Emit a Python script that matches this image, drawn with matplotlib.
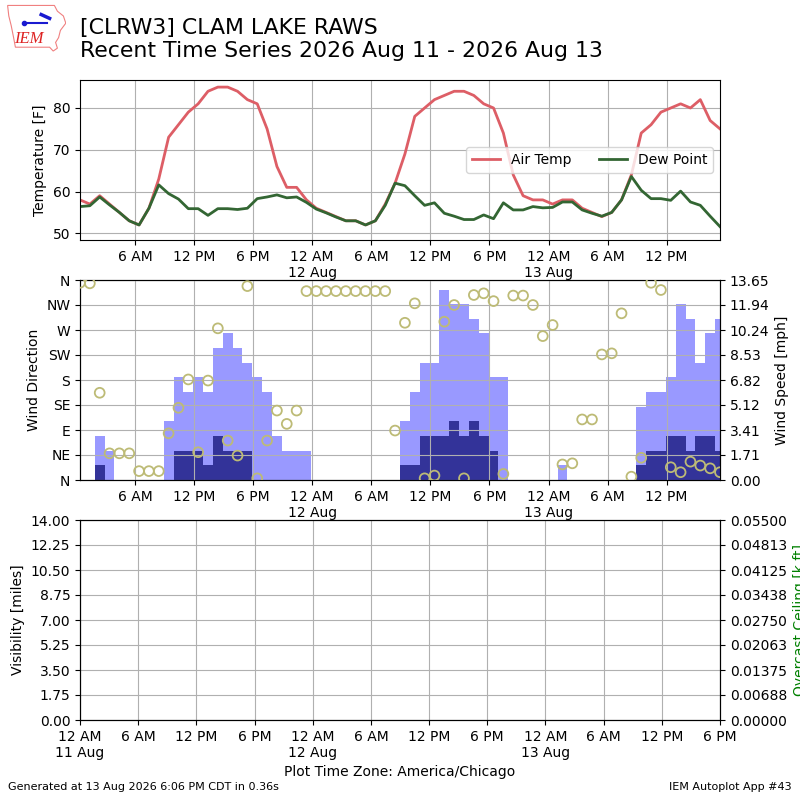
"""Recent time series plot for a RAWS station (temperature, wind, visibility)."""
import datetime

import matplotlib
matplotlib.use("Agg")
import matplotlib.dates as mdates
import matplotlib.pyplot as plt
import numpy as np
import pandas as pd
from matplotlib.patches import Polygon
from matplotlib.ticker import FuncFormatter

# hourly observations, 2026 Aug 11 00:25 -> 2026 Aug 13 17:25 local time
valid = pd.date_range("2026-08-11 00:25", periods=66, freq="h")

air_temp = [58, 57, 59, 57, 55, 53, 52, 56, 63, 73, 76, 79, 81, 84, 85, 85,
            84, 82, 81, 75, 66, 61, 61, 58, 56, 55, 54, 53, 53, 52, 53, 57,
            62, 69, 78, 80, 82, 83, 84, 84, 83, 81, 80, 74, 64, 59, 58, 58,
            57, 58, 58, 56, 55, 54, 55, 58, 64, 74, 76, 79, 80, 81, 80, 82,
            77, 75]
dew_point = [56.4, 56.6, 58.7, 56.8, 55.0, 53.0, 52.0, 56.0, 61.6, 59.5, 58.2,
             55.9, 55.9, 54.3, 55.9, 55.9, 55.7, 56.0, 58.3, 58.7, 59.2, 58.5,
             58.7, 57.4, 55.8, 54.9, 53.9, 53.0, 53.0, 52.0, 53.0, 56.7, 62.0,
             61.4, 59.0, 56.7, 57.3, 54.8, 54.1, 53.3, 53.3, 54.4, 53.5, 57.3,
             55.6, 55.6, 56.4, 56.1, 56.2, 57.5, 57.5, 55.6, 54.8, 54.1, 55.0,
             58.0, 63.6, 60.3, 58.3, 58.3, 57.9, 60.1, 57.5, 56.7, 54.1, 51.6]
wind_dir = [355, 354, 157, 48, 48, 48, 16, 16, 16, 84, 130, 181, 50, 179, 273,
            71, 44, 349, 3, 71, 125, 101, 125, 340, 340, 340, 340, 340, 340,
            340, 340, 340, 89, 283, 318, 3, 8, 285, 315, 3, 333, 336, 322, 11,
            332, 332, 315, 259, 279, 28, 30, 109, 109, 226, 228, 300, 6, 40,
            355, 342, 23, 14, 33, 26, 21, 14]
wind_gust = [0, 0, 3, 2, 0, 0, 0, 0, 0, 4, 7, 6, 7, 6, 9, 10, 9, 8, 7, 6, 3,
             2, 2, 2, 0, 0, 0, 0, 0, 0, 0, 0, 0, 4, 6, 8, 8, 13, 12, 12, 11,
             10, 7, 7, 0, 0, 0, 0, 0, 1, 0, 0, 0, 0, 0, 0, 0, 5, 6, 6, 7, 12,
             11, 8, 10, 11]
wind_speed = [0, 0, 1, 0, 0, 0, 0, 0, 0, 0, 2, 2, 2, 1, 3, 2, 2, 2, 0, 0, 0,
              0, 0, 0, 0, 0, 0, 0, 0, 0, 0, 0, 0, 1, 1, 3, 3, 3, 4, 3, 4, 3,
              2, 0, 0, 0, 0, 0, 0, 0, 0, 0, 0, 0, 0, 0, 0, 1, 2, 2, 3, 3, 2,
              3, 3, 2]

dir_labels = ["N", "NE", "E", "SE", "S", "SW", "W", "NW", "N"]
plot_start = datetime.datetime(2026, 8, 11, 0, 0)
plot_end = datetime.datetime(2026, 8, 13, 18, 0)


def time_label(x, pos=None):
    """ 12 AM gets the date underneath. """
    dt = mdates.num2date(x)
    hr = dt.hour % 12 or 12
    ampm = "AM" if dt.hour < 12 else "PM"
    if dt.hour == 0:
        return f"{hr} {ampm}\n{dt.day} {dt.strftime('%b')}"
    return f"{hr} {ampm}"


def speed_label(v, pos=None):
    """ Two decimals, halves rounded down like the original. """
    if v <= 0:
        return "0.00"
    return f"{v - 1e-9:.2f}"


def setup_time_axis(ax):
    ax.xaxis.set_major_locator(mdates.HourLocator(byhour=[0, 6, 12, 18]))
    ax.xaxis.set_major_formatter(FuncFormatter(time_label))
    ax.grid(True)


def draw_logo(fig):
    """ Rough stand-in for the IEM logo. """
    lax = fig.add_axes([0.008, 0.935, 0.075, 0.06])
    lax.set_xlim(0, 1)
    lax.set_ylim(0, 1)
    lax.axis("off")
    outline = [(0.02, 0.97), (0.8, 0.97), (0.85, 0.85), (0.95, 0.75),
               (0.99, 0.6), (0.9, 0.45), (0.87, 0.3), (0.82, 0.2),
               (0.85, 0.08), (0.78, 0.02), (0.72, 0.1), (0.15, 0.1),
               (0.12, 0.3), (0.08, 0.55), (0.04, 0.75)]
    lax.add_patch(Polygon(outline, closed=True, fill=False,
                          edgecolor="#f08080", lw=0.8))
    lax.plot([0.3, 0.68], [0.6, 0.6], color="#1a1ad0", lw=1.5)
    lax.plot([0.3], [0.6], "o", color="#1a1ad0", ms=3)
    lax.plot([0.58, 0.72], [0.78, 0.7], color="#1a1ad0", lw=2.5)
    lax.text(0.38, 0.28, "IEM", color="#dd2222", fontsize=12,
             style="italic", family="Liberation Serif",
             ha="center", va="center")


fig = plt.figure(figsize=(8, 8), dpi=100)

fig.text(0.1, 0.978,
         "[CLRW3] CLAM LAKE RAWS\nRecent Time Series 2026 Aug 11 - 2026 Aug 13",
         fontsize=15.8, va="top", ha="left")
draw_logo(fig)
fig.text(0.01, 0.012, "Generated at 13 Aug 2026 6:06 PM CDT in 0.36s",
         fontsize=8)
fig.text(0.99, 0.012, "IEM Autoplot App #43", fontsize=8, ha="right")

# temperature panel
ax1 = fig.add_axes([0.1, 0.7, 0.8, 0.2])
ax1.plot(valid, air_temp, color="#dd5e66", lw=2, label="Air Temp")
ax1.plot(valid, dew_point, color="#336633", lw=2, label="Dew Point")
ax1.set_xlim(valid[0], valid[-1])
ax1.set_ylim(48.4, 86.7)
ax1.set_ylabel("Temperature [F]")
setup_time_axis(ax1)
ax1.legend(loc="center right", ncol=2)

# wind panel: direction in front, speed bars behind
ax2 = fig.add_axes([0.1, 0.4, 0.8, 0.25])
ax2b = ax2.twinx()
ax2b.bar(valid, wind_gust, width=1 / 24.0, color="#9999ff")
ax2b.bar(valid, wind_speed, width=1 / 24.0, color="#333399")
ax2b.set_ylim(0, max(wind_gust) * 1.05)
ax2b.set_yticks(np.linspace(0, max(wind_gust) * 1.05, 9))
ax2b.yaxis.set_major_formatter(FuncFormatter(speed_label))
ax2b.set_ylabel("Wind Speed [mph]")

ax2.scatter(valid, wind_dir, s=50, facecolors="none",
            edgecolors="#bdbb76", linewidths=1.3, zorder=5)
ax2.set_ylim(0, 360)
ax2.set_yticks(range(0, 361, 45))
ax2.set_yticklabels(dir_labels)
ax2.set_ylabel("Wind Direction")
ax2.set_xlim(valid[0], valid[-1])
setup_time_axis(ax2)
ax2.set_zorder(ax2b.get_zorder() + 1)
ax2.patch.set_visible(False)

# visibility / ceiling panel (no data)
ax3 = fig.add_axes([0.1, 0.1, 0.8, 0.25])
ax3.set_xlim(plot_start, plot_end)
ax3.set_ylim(0, 14)
ax3.set_yticks(np.linspace(0, 14, 9))
ax3.yaxis.set_major_formatter(FuncFormatter(lambda v, p: f"{v:.2f}"))
ax3.set_ylabel("Visibility [miles]")
ax3.set_xlabel("Plot Time Zone: America/Chicago")
setup_time_axis(ax3)

ax3b = ax3.twinx()
ax3b.set_ylim(0, 0.055)
ax3b.set_yticks(np.linspace(0, 0.055, 9))
ax3b.yaxis.set_major_formatter(
    FuncFormatter(lambda v, p: f"{v + 1e-12:.5f}"))
ax3b.set_ylabel("Overcast Ceiling [k ft]", color="green")

fig.savefig("out.png", dpi=100)
